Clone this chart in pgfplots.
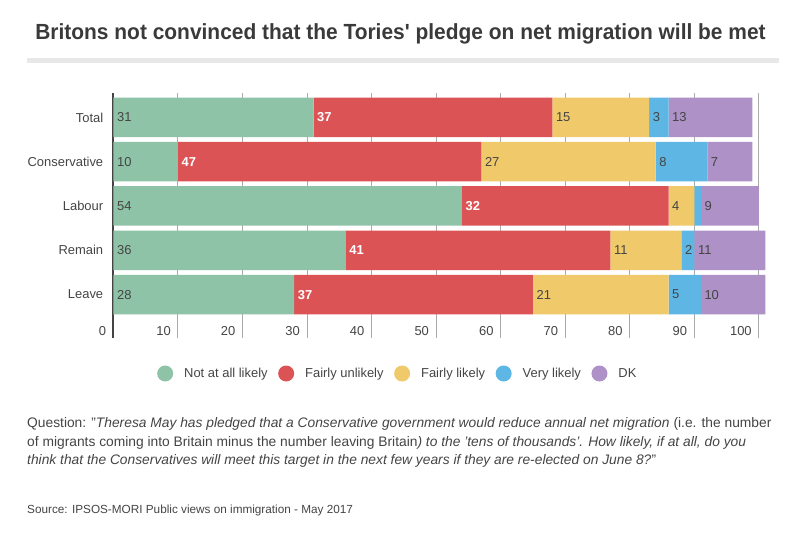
\documentclass[border=0pt]{standalone}
\usepackage{pgfplots}
\pgfplotsset{compat=1.18}
\usepackage{pgfplotstable}
\usepackage{fontspec}
\setmainfont{Liberation Sans}
\newfontfamily\condfont{Liberation Sans}[FakeStretch=0.955]

\definecolor{cgreen}{HTML}{8FC3A7}
\definecolor{cred}{HTML}{DC5356}
\definecolor{cyellow}{HTML}{F0C96A}
\definecolor{cblue}{HTML}{5EB6E4}
\definecolor{cpurple}{HTML}{AD91C7}
\definecolor{ctext}{HTML}{444444}
\definecolor{ctitle}{HTML}{3A3A3A}
\definecolor{cgrid}{HTML}{AAAAAA}
\definecolor{crule}{HTML}{E8E8E8}

% share of respondents, %  (bl = label shown on the blue segment)
\pgfplotstableread{
idx cat          g  r  y  b  p  bl
0   Total        31 37 15 3  13 3
1   Conservative 10 47 27 8  7  8
2   Labour       54 32 4  1  9  {}
3   Remain       36 41 11 2  11 2
4   Leave        28 37 21 5  10 5
}\votes
% where each segment starts
\pgfplotstablecreatecol[create col/expr={0}]{gs}\votes
\pgfplotstablecreatecol[create col/expr={\thisrow{g}}]{rs}\votes
\pgfplotstablecreatecol[create col/expr={\thisrow{g}+\thisrow{r}}]{ys}\votes
\pgfplotstablecreatecol[create col/expr={\thisrow{g}+\thisrow{r}+\thisrow{y}}]{bs}\votes
\pgfplotstablecreatecol[create col/expr={\thisrow{g}+\thisrow{r}+\thisrow{y}+\thisrow{b}}]{ps}\votes

\pgfplotsset{
  frame/.style={
    at={(113.4bp,-338bp)}, anchor=south west,
    scale only axis,
    width=658.4bp, height=244.8bp,
    xmin=0, xmax=102,
    ymin=-0.546, ymax=4.98,
    y dir=reverse,
    enlargelimits=false,
    clip=false,
  },
  lab/.style={draw=none, mark=none, forget plot,
    nodes near coords, point meta=explicit symbolic,
    every node near coord/.style={anchor=west, inner sep=0pt, xshift=3.5bp,
      font=\fontsize{13}{15}\selectfont#1}},
}

\begin{document}
\begin{tikzpicture}
  \path[use as bounding box] (0,0) rectangle (801bp,-538bp);

  \node[font=\condfont\bfseries\fontsize{22}{26}\selectfont, text=ctitle]
    at (400.5bp,-33.5bp) {Britons not convinced that the Tories' pledge on net migration will be met};
  \fill[crule] (27bp,-58.3bp) rectangle (779bp,-62.7bp);

  \begin{axis}[
    frame,
    xbar stacked,
    bar width=39.5bp,
    axis lines*=left,
    x axis line style={draw=none},
    y axis line style={draw=ctext, line width=2bp},
    major tick length=0pt,
    xtick={0,10,...,100},
    ytick={0,1,2,3,4},
    yticklabels={Total,Conservative,Labour,Remain,Leave},
    xmajorgrids,
    grid style={draw=cgrid, line width=1bp},
    ticklabel style={font=\fontsize{13}{15}\selectfont, text=ctext, inner sep=0pt},
    /pgf/number format/assume math mode=true,
    xticklabel style={anchor=east, xshift=-7bp, yshift=7.3bp},
    yticklabel style={anchor=east, xshift=-10bp},
    legend style={at={(axis description cs:0.0662,-0.145)}, anchor=west,
      draw=none, fill=none, inner sep=0pt,
      font=\fontsize{13}{15}\selectfont,
      nodes={inner sep=0pt, text=ctext},
      /tikz/every even column/.append style={column sep=10.5bp}},
    legend columns=5,
    legend cell align=left,
    legend image code/.code={\fill (8bp,0bp) circle (8bp); \path (27bp,0bp);},
  ]
    \addplot[fill=cgreen, draw=none]  table[x=g, y=idx] {\votes};
    \addplot[fill=cred, draw=none]    table[x=r, y=idx] {\votes};
    \addplot[fill=cyellow, draw=none] table[x=y, y=idx] {\votes};
    \addplot[fill=cblue, draw=none]   table[x=b, y=idx] {\votes};
    \addplot[fill=cpurple, draw=none] table[x=p, y=idx] {\votes};
    \legend{Not at all likely, Fairly unlikely, Fairly likely, Very likely, DK}
  \end{axis}

  % segment values, written at the start of each segment
  \begin{axis}[frame, hide axis]
    \addplot[lab={\color{ctext}}]           table[x=gs, y=idx, meta=g]  {\votes};
    \addplot[lab={\bfseries\color{white}}]  table[x=rs, y=idx, meta=r]  {\votes};
    \addplot[lab={\color{ctext}}]           table[x=ys, y=idx, meta=y]  {\votes};
    \addplot[lab={\color{ctext}}]           table[x=bs, y=idx, meta=bl] {\votes};
    \addplot[lab={\color{ctext}}]           table[x=ps, y=idx, meta=p]  {\votes};
  \end{axis}

  \begin{scope}[every node/.style={anchor=base west, inner sep=0pt, text=ctext,
      font=\fontsize{13.85}{18}\selectfont}]
    \node at (27bp,-427bp) {Question: "\textit{Theresa May has pledged that a Conservative government would reduce annual net migration} (i.e. the number};
    \node at (27bp,-446.3bp) {of migrants coming into Britain minus the number leaving Britain\textit{) to the 'tens of thousands'. How likely, if at all, do you}};
    \node at (27bp,-464.6bp) {\textit{think that the Conservatives will meet this target in the next few years if they are re-elected on June 8?}"};
    \node[font=\fontsize{11.8}{14}\selectfont] at (27bp,-513.5bp) {Source: IPSOS-MORI Public views on immigration - May 2017};
  \end{scope}
\end{tikzpicture}
\end{document}
